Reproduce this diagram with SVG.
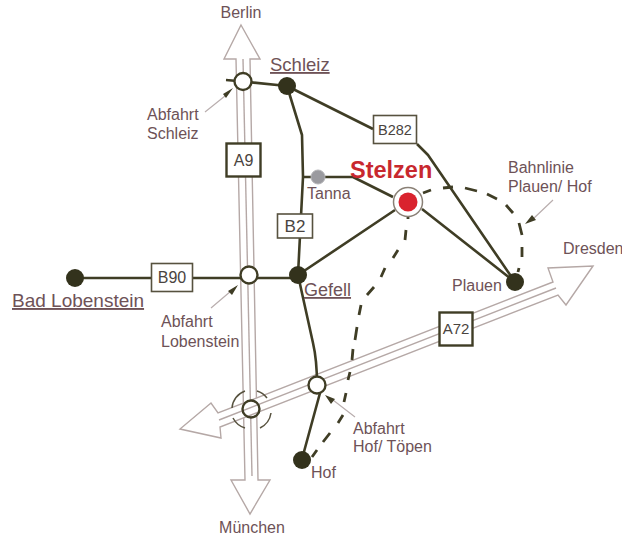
<svg xmlns="http://www.w3.org/2000/svg" width="622" height="538" viewBox="0 0 622 538">
<style>
text{font-family:"Liberation Sans",Arial,sans-serif;font-size:16px;fill:#6e5257}
.u{text-decoration:underline;font-size:18.5px}
.road{fill:none;stroke:#3f3d25;stroke-width:2.6;stroke-linejoin:round}
.rail{fill:none;stroke:#3f3d25;stroke-width:2.8}
.hw{fill:none;stroke:#b5a8a6;stroke-width:1.4}
.head{fill:#fff;stroke:#b5a8a6;stroke-width:1.4}
.lead{fill:none;stroke:#b9aeae;stroke-width:1.2}
.tip{fill:#3f3d25}
.dark{fill:#33321c}
.open{fill:#fff;stroke:#3f3d25;stroke-width:2.4}
.box{fill:#fff;stroke:#57523f;stroke-width:1.6}
.bb{fill:#fff;stroke:#3f3d25;stroke-width:2.4}
.bt{fill:#4a4440;text-anchor:middle}
</style>
<g id="highways">
<path class="head" d="M241 25L260 59L250 59L258 480L270 480L250 514L231 480L245 480L236 59L224 59Z"/>
<path class="hw" d="M243 59L252 476"/>
<path class="head" d="M593 266L566 305L558 295L220 427L221 438L180 429L211 403L218 413L553 282L548 268Z"/>
<path class="hw" d="M219 420L556 288"/>
<path class="hw" d="M232 408A19.5 19.5 0 0 1 245 391M233 418A20 20 0 0 0 245 428M257 391A19.5 19.5 0 0 1 267 398M271 413A20 20 0 0 1 260 428" style="stroke:#57523f;stroke-width:1.5"/>
</g>
<g id="connectors">
<path class="road" d="M226 80L243 81.500L287 86L373 129M287 86L302 135L303 177L298 275L313 343Q317 360 317 385M417 144L428 155L515 282M303 177H353L393 197M422 209L515 282M395 210L298 275M75 278H298M320 393L302 459"/>
<path class="rail" d="M408 216V219M406 230L405 240M398 250L393 258M385 268L381 277M374 287L367 295M361 305L359 315M357 327L355 340M353 349L352 360M350 372L348 380M346 393L344 402M343 415L338 423M330 433L323 442M317 450L312 457"/>
<path class="rail" d="M423 193L431 190M443 188L453 187M465 188L477 191M487 194L497 199M506 205L513 213M519 223L522 235M522 247V257M519 268L518 272"/>
<path class="lead" d="M205 112L225 96M553 200L533 219M211 308L231 291M355 417L333 400"/>
<path class="tip" d="M233 88L223 94L226 98Z M525 224L536 220L532 215Z M238 285L228 291L232 295Z M325 395L335 399L331 404Z"/>
</g>
<g id="node-schleiz-exit"><circle class="open" cx="243" cy="81.500" r="8.500"/></g>
<g id="node-schleiz"><circle class="dark" cx="287" cy="86" r="9"/><text class="u" x="270" y="71">Schleiz</text></g>
<g id="node-tanna"><circle cx="318" cy="177" r="7" fill="#9a9a9f" stroke="#b5b5b8"/><text x="307" y="199">Tanna</text></g>
<g id="node-stelzen"><circle cx="408" cy="202" r="14.500" fill="#fff" stroke="#8a8076" stroke-width="1.500"/><circle cx="408" cy="202" r="9.500" fill="#d9232e"/><text x="350" y="178" style="font-size:23.500px;font-weight:bold;fill:#c8282e">Stelzen</text></g>
<g id="node-b282"><rect class="box" x="373.500" y="115.500" width="43" height="28"/><text class="bt" x="395" y="135" style="font-size:14.500px">B282</text></g>
<g id="node-a9"><rect class="bb" x="226.500" y="143.500" width="34" height="33"/><text class="bt" x="243.500" y="166">A9</text></g>
<g id="node-b2"><rect class="box" x="277.500" y="214" width="35" height="24"/><text class="bt" x="295" y="232" style="font-size:17px">B2</text></g>
<g id="node-b90"><rect class="box" x="151.500" y="263.500" width="41" height="28"/><text class="bt" x="172" y="283">B90</text></g>
<g id="node-a72"><rect class="bb" x="439.500" y="312.500" width="33" height="33"/><text class="bt" x="456" y="334" style="font-size:15px">A72</text></g>
<g id="node-lobenstein"><circle class="dark" cx="75" cy="278" r="9"/><text class="u" x="12" y="307" style="font-size:19px">Bad Lobenstein</text></g>
<g id="node-lobenstein-exit"><circle class="open" cx="249" cy="275" r="8.500"/></g>
<g id="node-gefell"><circle class="dark" cx="298" cy="275" r="9"/><text class="u" x="304" y="296" style="font-size:18px">Gefell</text></g>
<g id="node-plauen"><circle class="dark" cx="515" cy="282" r="9"/><text x="452" y="291">Plauen</text></g>
<g id="node-hof-exit"><circle class="open" cx="317" cy="385" r="8.500"/></g>
<g id="node-hof"><circle class="dark" cx="302" cy="460" r="9"/><text x="311" y="478">Hof</text></g>
<g id="node-cross"><circle cx="251" cy="409" r="8.500" fill="none" stroke="#3f3d25" stroke-width="2.400"/></g>
<g id="labels">
<text x="241" y="18" text-anchor="middle">Berlin</text>
<text x="252" y="533" text-anchor="middle">München</text>
<text x="563" y="254">Dresden</text>
<text x="147" y="120">Abfahrt</text><text x="147" y="139">Schleiz</text>
<text x="161" y="327">Abfahrt</text><text x="161" y="347">Lobenstein</text>
<text x="353" y="434">Abfahrt</text><text x="353" y="452">Hof/ Töpen</text>
<text x="508" y="173">Bahnlinie</text><text x="508" y="192">Plauen/ Hof</text>
</g>
</svg>
